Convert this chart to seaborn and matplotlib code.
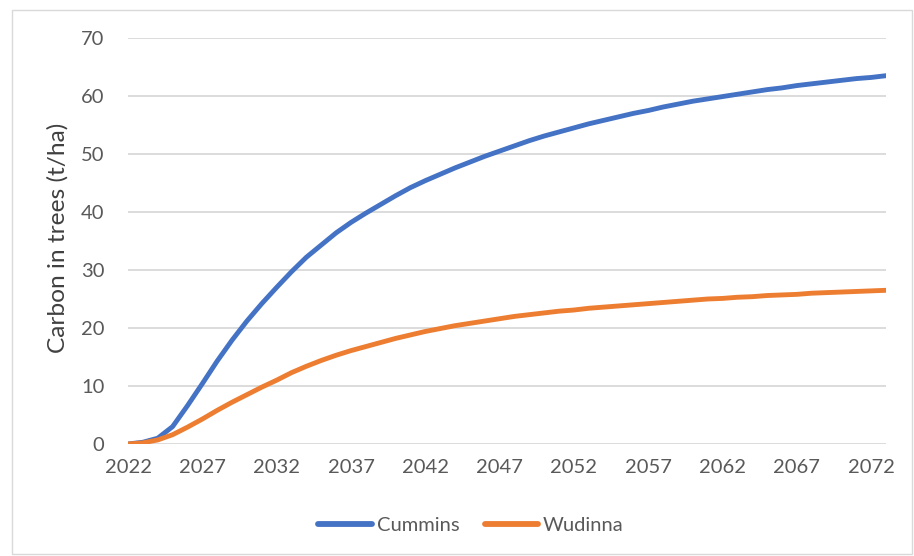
import numpy as np
import pandas as pd
import matplotlib
matplotlib.use("Agg")
import matplotlib.pyplot as plt
import seaborn as sns
from matplotlib.patches import Rectangle

years = list(range(2022, 2074))
cummins = [0.0, 0.3, 1.0, 3.0, 6.6, 10.4, 14.3, 17.9, 21.2, 24.2, 27.0, 29.7, 32.2, 34.3,
           36.4, 38.2, 39.8, 41.3, 42.8, 44.2, 45.4, 46.5, 47.6, 48.6, 49.6, 50.5, 51.4,
           52.3, 53.1, 53.8, 54.5, 55.2, 55.8, 56.4, 57.0, 57.5, 58.1, 58.6, 59.1, 59.5,
           59.9, 60.3, 60.7, 61.1, 61.4, 61.8, 62.1, 62.4, 62.7, 63.0, 63.2, 63.5]
wudinna = [0.0, 0.2, 0.7, 1.6, 2.9, 4.3, 5.8, 7.2, 8.5, 9.8, 11.0, 12.3, 13.4, 14.4,
           15.3, 16.1, 16.8, 17.5, 18.2, 18.8, 19.4, 19.9, 20.4, 20.8, 21.2, 21.6, 22.0,
           22.3, 22.6, 22.9, 23.1, 23.4, 23.6, 23.8, 24.0, 24.2, 24.4, 24.6, 24.8, 25.0,
           25.1, 25.3, 25.4, 25.6, 25.7, 25.8, 26.0, 26.1, 26.2, 26.3, 26.4, 26.5]
series_names = ["Cummins", "Wudinna"]
x_ticks = list(range(2022, 2073, 5))
y_ticks = list(range(0, 71, 10))
y_label = "Carbon in trees (t/ha)"

df = pd.DataFrame({
    "Year": years * 2,
    "Carbon": cummins + wudinna,
    "Site": [series_names[0]] * len(years) + [series_names[1]] * len(years),
})

sns.set_theme(style="white")
plt.rcParams["font.family"] = ["Lato", "DejaVu Sans"]

W, H = 914, 556
fig = plt.figure(figsize=(W / 100, H / 100), dpi=100)
ax = fig.add_axes([128 / W, 1 - 444 / H, (886 - 128) / W, (444 - 38) / H])

palette = {"Cummins": "#4472C4", "Wudinna": "#ED7D31"}
sns.lineplot(data=df, x="Year", y="Carbon", hue="Site", palette=palette,
             linewidth=3.5, ax=ax, legend=True, solid_capstyle="round")

ax.set_xlim(2022, 2073)
ax.set_ylim(0, 70)
ax.set_xticks(x_ticks)
ax.set_xticklabels([str(t) for t in x_ticks])
ax.set_yticks(y_ticks)
ax.set_xlabel("")
ax.set_ylabel("")
ax.tick_params(axis="both", length=0, labelsize=14.5, labelcolor="#595959")
ax.tick_params(axis="x", pad=11)
ax.tick_params(axis="y", pad=17)
ax.yaxis.grid(True, color="#D9D9D9", linewidth=1.3)
ax.set_axisbelow(True)
for s in ax.spines.values():
    s.set_visible(False)

# y-axis title placed in figure coordinates, size fitted to the reference length
ylab = fig.text(58 / W, 1 - 238 / H, y_label, rotation=90, ha="center", va="center",
                fontsize=14.5, color="#404040")
fig.canvas.draw()
ext = ylab.get_window_extent()
ylab.set_fontsize(14.5 * 229 / ext.height)

handles, labels = ax.get_legend_handles_labels()
ax.legend_.remove()
for h in handles:
    h.set_linewidth(4.2)
fig.legend(handles, labels, loc="center", bbox_to_anchor=(471 / W, 1 - 525 / H),
           ncol=2, frameon=False, fontsize=14.5, handlelength=2.65, columnspacing=1.25,
           handletextpad=0.25, labelcolor="#595959")

fig.patches.append(Rectangle((12 / W, 2 / H), 900 / W, 544 / H,
                             transform=fig.transFigure, fill=False,
                             edgecolor="#D9D9D9", linewidth=1.0))

fig.savefig("out.png", dpi=100)
